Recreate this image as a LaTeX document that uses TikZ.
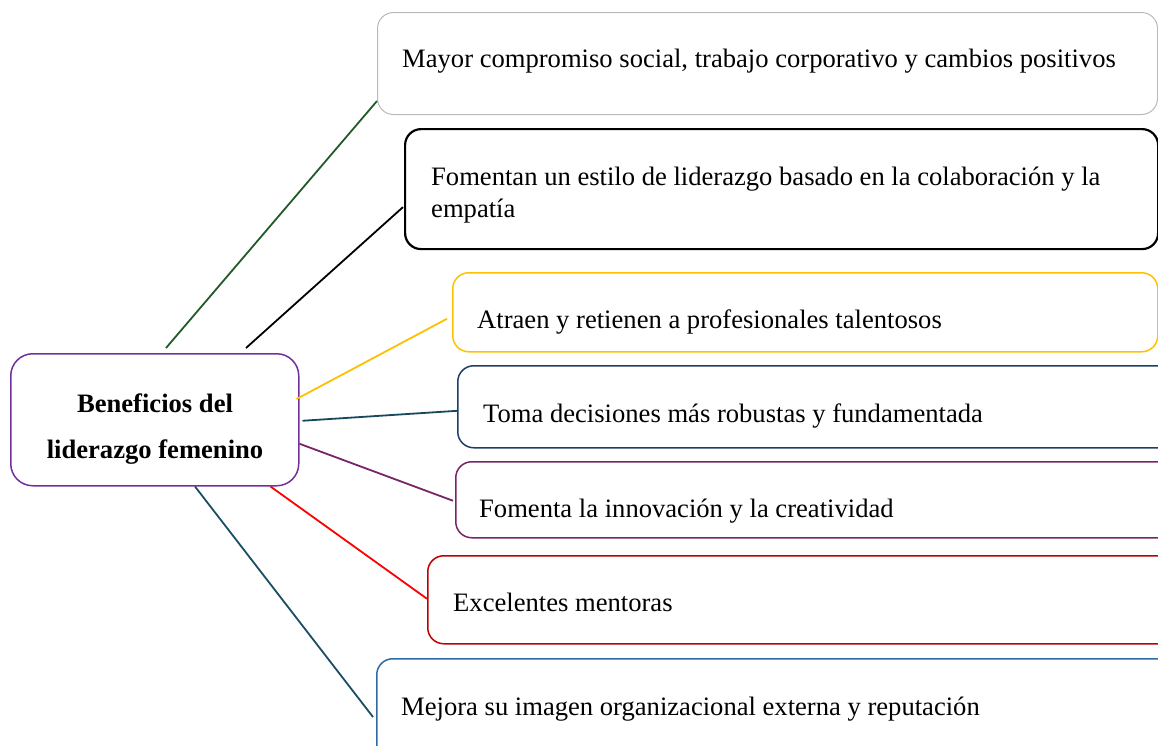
\documentclass[tikz,border=0pt]{standalone}
\usepackage{fontspec}
\setmainfont{Liberation Serif}
\usetikzlibrary{calc}
\definecolor{grayb}{RGB}{185,185,185}
\definecolor{dgreen}{RGB}{34,90,40}
\definecolor{ambar}{RGB}{255,192,0}
\definecolor{navy}{RGB}{31,62,100}
\definecolor{navyline}{RGB}{24,72,92}
\definecolor{plum}{RGB}{120,36,104}
\definecolor{darkred}{RGB}{192,0,0}
\definecolor{midblue}{RGB}{46,106,164}
\definecolor{tealline}{RGB}{26,78,100}
\definecolor{violet}{RGB}{112,48,160}
\begin{document}
\begin{tikzpicture}[x=1pt,y=-1pt,
  box/.style={draw,rectangle,rounded corners=16pt,anchor=north west,inner sep=0pt,line width=1.5pt},
  lab/.style={anchor=base west,inner sep=0pt,font=\fontsize{26.6}{32}\selectfont},
  conn/.style={line width=1.8pt}]
\useasboundingbox (0,0) rectangle (1158,745);
\clip (0,0) rectangle (1158,745);
% central node
\node[box,draw=violet,rounded corners=22pt,minimum width=288pt,minimum height=132pt] (c) at (10,353) {};
\node[anchor=base,inner sep=0pt,font=\fontsize{26.6}{32}\selectfont\bfseries] (t0a) at (155,412) {Beneficios del};
\node[anchor=base,inner sep=0pt,font=\fontsize{26.6}{32}\selectfont\bfseries] (t0b) at (155,458) {liderazgo femenino};
% boxes
\node[box,draw=grayb,line width=1pt,minimum width=780pt,minimum height=102pt] (b1) at (377,12) {};
\node[box,draw=black,line width=2.2pt,minimum width=753pt,minimum height=120pt] (b2) at (404,128) {};
\node[box,draw=ambar,minimum width=705pt,minimum height=79pt] (b3) at (452,272) {};
\node[box,draw=navy,minimum width=730pt,minimum height=82pt] (b4) at (457,365) {};
\node[box,draw=plum,minimum width=730pt,minimum height=76pt] (b5) at (455,461) {};
\node[box,draw=darkred,minimum width=760pt,minimum height=88pt] (b6) at (427,555) {};
\node[box,draw=midblue,minimum width=810pt,minimum height=110pt] (b7) at (376,658) {};
% labels
\node[lab] (t1) at (402,67) {Mayor compromiso social, trabajo corporativo y cambios positivos};
\node[lab] (t2a) at (431,185) {Fomentan un estilo de liderazgo basado en la colaboración y la};
\node[lab] (t2b) at (431,217) {empatía};
\node[lab] (t3) at (477,328) {Atraen y retienen a profesionales talentosos};
\node[lab] (t4) at (483,422) {Toma decisiones más robustas y fundamentada};
\node[lab] (t5) at (479,517) {Fomenta la innovación y la creatividad};
\node[lab] (t6) at (453,611) {Excelentes mentoras};
\node[lab] (t7) at (401,715) {Mejora su imagen organizacional externa y reputación};
% connectors
\draw[conn,dgreen] ($(c.north west)+(156,-5)$) -- ($(b1.south west)+(0,-14)$);
\draw[conn,black] ($(c.north west)+(236,-5)$) -- ($(b2.west)+(-1,18)$);
\draw[conn,ambar] ($(c.north east)+(-3,46)$) -- ($(b3.west)+(-5,6.5)$);
\draw[conn,navyline] ($(c.east)+(3,1)$) -- ($(b4.west)+(1,4)$);
\draw[conn,plum] ($(c.east)+(0,24)$) -- ($(b5.west)+(-2,1)$);
\draw[conn,red] ($(c.south east)+(-29,0)$) -- ($(b6.west)+(0,-1)$);
\draw[conn,tealline] ($(c.south west)+(185,0)$) -- ($(b7.north west)+(-3,59)$);
\end{tikzpicture}
\end{document}
